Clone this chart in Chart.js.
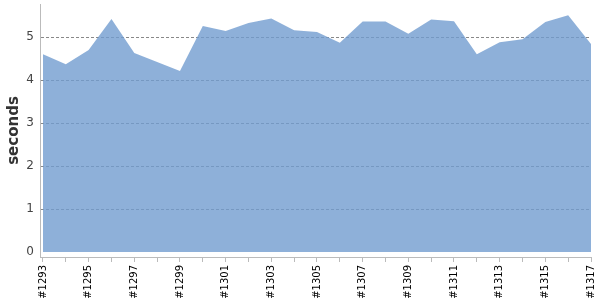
<!DOCTYPE html>
<html>
<head>
<meta charset="utf-8">
<script src="https://cdn.jsdelivr.net/npm/chart.js@4/dist/chart.umd.min.js"></script>
<style>
  html, body { margin: 0; padding: 0; background: #fff; }
  #wrap { width: 600px; height: 300px; }
</style>
</head>
<body>
<div id="wrap"><canvas id="mainChart"></canvas></div>
<script>
// ===== DATA =====
const builds = ["#1293", "#1294", "#1295", "#1296", "#1297", "#1298", "#1299", "#1300",
  "#1301", "#1302", "#1303", "#1304", "#1305", "#1306", "#1307", "#1308", "#1309",
  "#1310", "#1311", "#1312", "#1313", "#1314", "#1315", "#1316", "#1317"];
const durations = [4.60, 4.37, 4.70, 5.42, 4.63, 4.42, 4.21, 5.26, 5.14, 5.33, 5.43,
  5.16, 5.12, 4.87, 5.36, 5.36, 5.08, 5.41, 5.37, 4.60, 4.88, 4.95, 5.35, 5.51, 4.84];
const yTicks = [0, 1, 2, 3, 4, 5];

const FONT = "'DejaVu Sans', Verdana, sans-serif";

// ===== CHART =====
new Chart(document.getElementById('mainChart'), {
  type: "line",
  data: {
    datasets: [{
      label: "seconds",
      data: durations.map((v, i) => ({ x: i, y: v })),
      fill: "origin",
      backgroundColor: "rgba(114,156,208,0.8)",
      borderWidth: 0,
      pointRadius: 0,
      tension: 0
    }]
  },
  options: {
    responsive: true,
    maintainAspectRatio: false,
    animation: false,
    layout: { padding: { top: 4, right: 9, left: 0, bottom: 0 } },
    plugins: { legend: { display: false }, tooltip: { enabled: false } },
    scales: {
      x: {
        type: "linear",
        min: -0.13,
        max: builds.length - 1,
        afterBuildTicks: s => { s.ticks = builds.map((b, i) => ({ value: i })); },
        afterFit: s => { s.height = 43; s.paddingLeft = 0; s.paddingRight = 0; },
        border: { color: "#bbb" },
        grid: { drawOnChartArea: false, drawTicks: true, tickLength: 5, tickColor: "#bbb" },
        ticks: {
          autoSkip: false,
          minRotation: 90,
          maxRotation: 90,
          padding: 3,
          color: "#000",
          font: { family: FONT, size: 10 },
          callback: v => (v % 2 === 0 ? builds[v] : "")
        }
      },
      y: {
        min: -0.116,
        max: 5.77,
        afterBuildTicks: s => { s.ticks = yTicks.map(v => ({ value: v })); },
        afterFit: s => { s.width = 40; s.paddingTop = 0; s.paddingBottom = 0; },
        border: { color: "#bbb", dash: [3, 2] },
        grid: {
          drawTicks: false,
          color: c => (c.tick && c.tick.value === 0 ? "rgba(0,0,0,0)" : "#888")
        },
        ticks: {
          padding: 6,
          color: "#444",
          font: { family: FONT, size: 12 }
        },
        title: {
          display: true,
          text: "seconds",
          color: "#333",
          padding: { top: 5, bottom: 0 },
          font: { family: FONT, size: 15, weight: "bold" }
        }
      }
    }
  }
});
</script>
</body>
</html>
